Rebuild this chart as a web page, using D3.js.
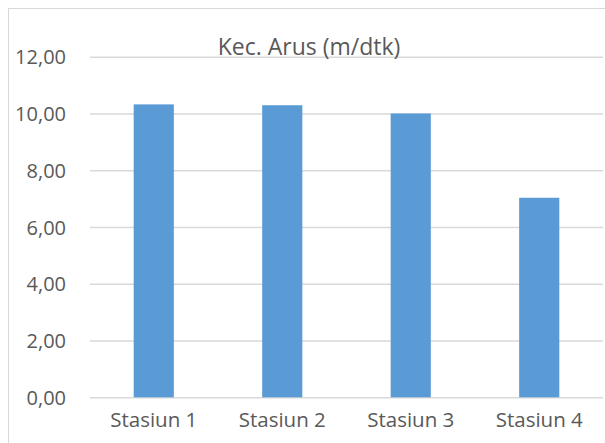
<!DOCTYPE html>
<html>
<head>
<meta charset="utf-8">
<script src="https://cdn.jsdelivr.net/npm/d3@7"></script>
<style>
  body { margin: 0; background: #fff; }
  svg text { font-family: "Open Sans", sans-serif; fill: #595959; }
</style>
</head>
<body>
<div id="chart"></div>
<script>
// Kec. Arus per stasiun

const stations = ["Stasiun 1", "Stasiun 2", "Stasiun 3", "Stasiun 4"];
const speeds = [10.32, 10.29, 10.00, 7.03];
const yTicks = [0, 2, 4, 6, 8, 10, 12];
const title = "Kec. Arus (m/dtk)";

const width = 605,
    height = 443,
    margin = ({ top: 56.7, right: 2, bottom: 45.7, left: 90 });

const svg = d3.select("#chart")
    .append("svg")
    .attr("width", width)
    .attr("height", height);

// chart area border (runs off right/bottom like the screenshot)
svg.append("rect")
    .attr("x", 8.5)
    .attr("y", 8.5)
    .attr("width", width + 10)
    .attr("height", height + 10)
    .attr("fill", "none")
    .attr("stroke", "#d9d9d9")
    .attr("stroke-width", 1);

const x = d3.scaleBand()
    .domain(stations)
    .range([margin.left, width - margin.right])
    .paddingInner(0.6875)
    .paddingOuter(0.34);

const y = d3.scaleLinear()
    .domain([0, 12])
    .range([height - margin.bottom, margin.top]);

// gridlines + y labels
const yAxis = svg.append("g")
    .attr("transform", `translate(${margin.left},0)`)
    .call(d3.axisLeft(y)
      .tickValues(yTicks)
      .tickSize(-(width - margin.right - margin.left))
      .tickPadding(24)
      .tickFormat(d => d3.format(".2f")(d).replace(".", ",")));

yAxis.select(".domain").remove();
yAxis.selectAll(".tick line")
    .attr("stroke", "#d9d9d9")
    .attr("stroke-width", 1.5);
yAxis.selectAll(".tick text")
    .attr("font-size", 20)
    .attr("dy", "0.36em")
    .style("font-family", "Open Sans, sans-serif");

// bars
svg.append("g")
  .selectAll("rect")
  .data(speeds)
  .join("rect")
    .attr("x", (d, i) => x(stations[i]))
    .attr("width", x.bandwidth())
    .attr("y", d => y(d))
    .attr("height", d => y(0) - y(d))
    .attr("fill", "#5b9bd5");

// x labels
const xAxis = svg.append("g")
    .attr("transform", `translate(0,${y(0)})`)
    .call(d3.axisBottom(x).tickSize(0).tickPadding(24));
xAxis.select(".domain").remove();
xAxis.selectAll(".tick text")
    .attr("font-size", 20.5)
    .attr("dy", "0.3em")
    .style("font-family", "Open Sans, sans-serif");

// title
svg.append("text")
    .attr("x", 309)
    .attr("y", 55)
    .attr("text-anchor", "middle")
    .attr("font-size", 23)
    .text(title);
</script>
</body>
</html>
